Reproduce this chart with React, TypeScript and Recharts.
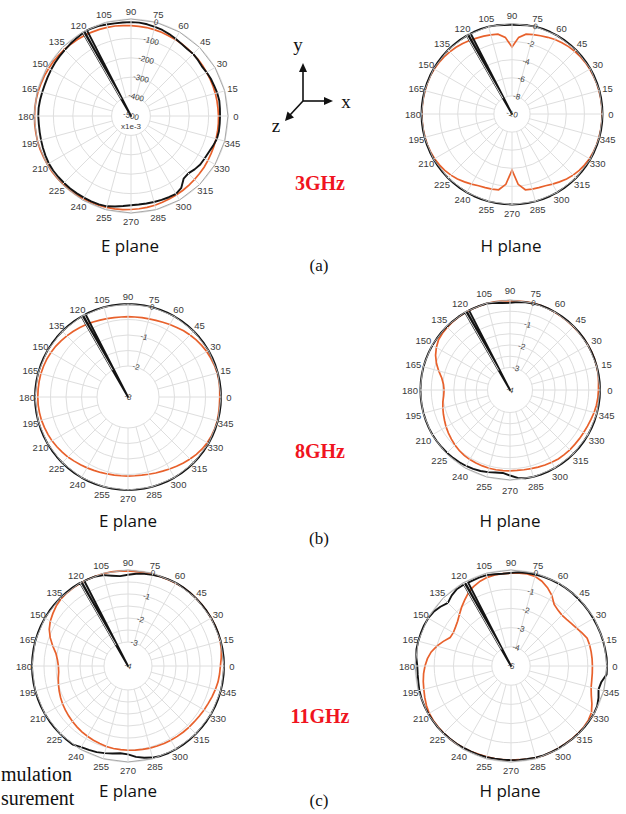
import React from 'react';
import { RadarChart, Radar, PolarGrid, PolarAngleAxis, PolarRadiusAxis } from 'recharts';

// Sample angles (degrees, counter-clockwise from +x). 117.2 .. 119.6 carry the measurement glitch.
const ANGLES = [
  0, 5, 10, 15, 20, 25, 30, 35, 40, 45, 50, 55,
  60, 65, 70, 75, 80, 85, 90, 95, 100, 105, 110, 115,
  117.2, 118, 118.8, 119.6,
  120, 125, 130, 135, 140, 145, 150, 155, 160, 165, 170, 175,
  180, 185, 190, 195, 200, 205, 210, 215, 220, 225, 230, 235,
  240, 245, 250, 255, 260, 265, 270, 275, 280, 285, 290, 295,
  300, 305, 310, 315, 320, 325, 330, 335, 340, 345, 350, 355,
];

const ANGLE_TICKS = [0, 15, 30, 45, 60, 75, 90, 105, 120, 135, 150, 165, 180, 195, 210, 225, 240, 255, 270, 285, 300, 315, 330, 345];

// 3 GHz E plane (units of 1e-3)
const E3_SIM = [
  -49, -50, -50, -50, -50, -50, -50, -49, -48, -48, -47, -45,
  -44, -43, -41, -39, -37, -36, -34, -32, -29, -27, -25, -23,
  -22, -21, -21, -21,
  -21, -19, -17, -15, -13, -11, -10, -8, -7, -5, -4, -3,
  -3, -2, -2, -1, -1, -2, -2, -2, -3, -4, -5, -6,
  -8, -9, -11, -12, -14, -16, -18, -20, -22, -24, -27, -29,
  -31, -33, -35, -37, -39, -40, -42, -44, -45, -46, -47, -48,
];
const E3_MEAS = [
  -41, -40, -38, -40, -44, -46, -50, -54, -50, -47, -49, -46,
  -40, -34, -28, -24, -20, -17, -16, -16, -15, -12, -7, -5,
  -4, -500, -5, -500,
  -6, -10, -14, -18, -20, -22, -24, -26, -27, -26, -24, -22,
  -22, -23, -22, -20, -17, -14, -11, -10, -11, -12, -12, -13,
  -14, -14, -15, -18, -26, -34, -40, -42, -42, -41, -40, -38,
  -36, -48, -78, -82, -72, -64, -62, -58, -50, -42, -40, -41,
];

// 3 GHz H plane (dB)
const H3_SIM = [
  -0.05, -0.05, -0.05, -0.05, -0.05, -0.07, -0.08, -0.1, -0.14, -0.2, -0.28, -0.38,
  -0.5, -0.65, -0.8, -0.92, -1.05, -1.5, -2.6, -1.5, -1.05, -0.95, -0.85, -0.75,
  -0.7, -0.67, -0.65, -0.63,
  -0.62, -0.5, -0.38, -0.28, -0.2, -0.13, -0.08, -0.05, -0.05, -0.05, -0.05, -0.05,
  -0.05, -0.05, -0.05, -0.05, -0.05, -0.08, -0.12, -0.2, -0.3, -0.45, -0.62, -0.85,
  -1.05, -1.25, -1.35, -1.4, -1.5, -2.2, -3.8, -2.2, -1.5, -1.4, -1.35, -1.25,
  -1.05, -0.85, -0.62, -0.45, -0.3, -0.2, -0.12, -0.08, -0.05, -0.05, -0.05, -0.05,
];
const H3_MEAS = [
  0, 0, 0, 0, 0, 0, 0, 0, 0, 0, 0, 0,
  0, 0, 0, 0, -0.05, -0.12, -0.15, -0.12, -0.05, 0, 0, 0,
  0, -10, 0, -10,
  0, 0, 0, 0, 0, 0, 0, 0, 0, 0, 0, 0,
  0, 0, 0, 0, 0, 0, 0, 0, 0, 0, 0, 0,
  0, 0, 0, 0, 0, 0, 0, 0, 0, 0, 0, 0,
  0, 0, 0, 0, 0, 0, 0, 0, 0, 0, 0, 0,
];

// 8 GHz E plane (dB)
const E8_SIM = [
  -0.04, -0.03, -0.02, -0.02, -0.03, -0.05, -0.07, -0.1, -0.13, -0.17, -0.21, -0.26,
  -0.3, -0.34, -0.37, -0.39, -0.4, -0.41, -0.41, -0.41, -0.4, -0.38, -0.36, -0.33,
  -0.32, -0.31, -0.31, -0.3,
  -0.3, -0.27, -0.24, -0.21, -0.18, -0.15, -0.13, -0.11, -0.1, -0.09, -0.09, -0.09,
  -0.09, -0.09, -0.1, -0.11, -0.13, -0.15, -0.17, -0.2, -0.23, -0.26, -0.3, -0.33,
  -0.36, -0.39, -0.41, -0.43, -0.44, -0.45, -0.45, -0.45, -0.44, -0.42, -0.39, -0.36,
  -0.32, -0.27, -0.22, -0.17, -0.12, -0.08, -0.05, -0.03, -0.02, -0.02, -0.03, -0.04,
];
const E8_MEAS = [
  0, 0, 0, 0, 0, 0, 0, 0, 0, 0, 0, 0,
  0, 0, 0, 0, 0, 0, 0, 0, 0, 0, 0, 0,
  0, -3, 0, -3,
  0, 0, 0, 0, 0, 0, 0, 0, 0, 0, 0, 0,
  0, 0, 0, 0, 0, 0, 0, 0, 0, 0, 0, 0,
  0, 0, 0, 0, 0, 0, 0, 0, 0, 0, 0, 0,
  0, 0, 0, 0, 0, 0, 0, 0, 0, 0, 0, 0,
];

// 8 GHz H plane (dB)
const H8_SIM = [
  -0.07, -0.05, -0.02, -0.01, 0, 0, 0, 0, -0.01, -0.02, -0.02, -0.02,
  -0.01, 0, 0, 0, -0.02, -0.03, -0.04, -0.03, -0.02, -0.02, -0.03, -0.03,
  -0.03, -0.03, -0.03, -0.03,
  -0.03, -0.03, -0.04, -0.06, -0.08, -0.12, -0.22, -0.35, -0.52, -0.72, -0.92, -1.03,
  -1.07, -1.04, -0.97, -0.91, -0.85, -0.79, -0.72, -0.66, -0.6, -0.54, -0.49, -0.45,
  -0.43, -0.42, -0.41, -0.4, -0.4, -0.4, -0.41, -0.41, -0.4, -0.38, -0.35, -0.32,
  -0.29, -0.26, -0.25, -0.24, -0.24, -0.23, -0.22, -0.2, -0.17, -0.13, -0.1, -0.08,
];
const H8_MEAS = [
  0, 0, 0, 0, 0, 0, 0, 0, 0, 0, 0, 0,
  0, 0, 0, -0.02, -0.04, -0.08, -0.12, -0.12, -0.06, -0.02, -0.02, -0.02,
  -0.02, -4, -0.02, -4,
  -0.02, -0.02, -0.02, -0.02, -0.02, -0.02, -0.02, -0.02, -0.02, -0.02, -0.02, -0.02,
  -0.02, -0.02, -0.02, -0.02, -0.02, -0.02, -0.02, -0.03, -0.04, -0.05, -0.06, -0.08,
  -0.1, -0.13, -0.17, -0.22, -0.28, -0.3, -0.2, -0.08, -0.02, 0, 0, 0,
  0, 0, 0, 0, 0, 0, 0, 0, 0, 0, 0, 0,
];

// 11 GHz E plane (dB)
const E11_SIM = [
  -0.15, -0.1, -0.05, -0.02, 0, 0, 0, 0, 0, 0, 0, 0,
  -0.02, -0.03, -0.04, -0.05, -0.05, -0.05, -0.04, -0.03, -0.02, -0.02, -0.02, -0.02,
  -0.02, -0.02, -0.02, -0.02,
  -0.02, -0.02, -0.03, -0.05, -0.1, -0.18, -0.26, -0.38, -0.55, -0.75, -0.95, -1.05,
  -1.1, -1.1, -1.05, -1.0, -0.95, -0.9, -0.85, -0.81, -0.77, -0.73, -0.69, -0.65,
  -0.62, -0.59, -0.56, -0.53, -0.51, -0.5, -0.49, -0.48, -0.47, -0.46, -0.45, -0.44,
  -0.43, -0.42, -0.41, -0.4, -0.39, -0.37, -0.34, -0.31, -0.27, -0.23, -0.19, -0.17,
];
const E11_MEAS = [
  0, 0, 0, 0, 0, 0, 0, 0, 0, 0, 0, 0,
  0, -0.02, -0.04, -0.07, -0.1, -0.14, -0.2, -0.24, -0.18, -0.08, -0.03, -0.02,
  -0.02, -4, -0.01, -4,
  0, 0, 0, 0, 0, 0, 0, 0, 0, 0, 0, 0,
  0, 0, 0, 0, 0, 0, 0, 0, 0, 0, 0, 0,
  -0.1, -0.14, -0.18, -0.24, -0.3, -0.35, -0.32, -0.2, -0.12, -0.05, -0.01, 0,
  0, 0, 0, 0, 0, 0, 0, 0, 0, 0, 0, 0,
];

// 11 GHz H plane (dB)
const H11_SIM = [
  -0.76, -0.76, -0.76, -0.76, -0.78, -0.92, -1.06, -1.15, -1.22, -1.25, -1.2, -1.08,
  -0.75, -0.5, -0.3, -0.17, -0.13, -0.14, -0.17, -0.17, -0.18, -0.22, -0.3, -0.42,
  -0.48, -0.51, -0.54, -0.57,
  -0.58, -0.8, -1.0, -1.2, -1.37, -1.47, -1.53, -1.5, -1.25, -1.0, -0.78, -0.63,
  -0.52, -0.43, -0.36, -0.3, -0.22, -0.14, -0.08, -0.06, -0.05, -0.05, -0.05, -0.06,
  -0.07, -0.08, -0.1, -0.1, -0.1, -0.1, -0.1, -0.1, -0.08, -0.05, -0.04, -0.05,
  -0.06, -0.06, -0.05, -0.05, -0.05, -0.08, -0.16, -0.35, -0.55, -0.68, -0.73, -0.75,
];
const H11_MEAS = [
  0, 0, -0.02, -0.03, -0.04, -0.05, -0.05, -0.05, -0.05, -0.05, -0.04, -0.04,
  -0.04, -0.05, -0.06, -0.07, -0.08, -0.1, -0.15, -0.18, -0.15, -0.1, -0.1, -0.12,
  -0.12, -5, -0.11, -5,
  -0.1, -0.1, -0.2, -0.35, -0.2, -0.08, -0.02, 0, 0, 0, 0, -0.05,
  -0.12, -0.12, -0.1, -0.06, -0.04, -0.03, -0.03, -0.03, -0.03, -0.04, -0.05, -0.06,
  -0.07, -0.08, -0.08, -0.09, -0.1, -0.1, -0.1, -0.09, -0.08, -0.06, -0.05, -0.05,
  -0.05, -0.05, -0.04, -0.03, -0.02, -0.02, -0.02, -0.05, -0.15, -0.28, -0.22, 0,
];

// Radial tick labels and grid rings per panel
const E3_TICKS = [-500, -400, -300, -200, -100, 0];
const E3_RINGS = [-400, -300, -200, -100, 0];
const H3_TICKS = [-10, -8, -6, -4, -2, 0];
const H3_RINGS = [-8, -6, -4, -2, 0];
const E8_TICKS = [-3, -2, -1, 0];
const E8_RINGS = [-2, -1.5, -1, -0.5, 0];
const H8_TICKS = [-4, -3, -2, -1, 0];
const H8_RINGS = [-3, -2.5, -2, -1.5, -1, -0.5, 0];
const E11_TICKS = [-4, -3, -2, -1, 0];
const E11_RINGS = [-3, -2.5, -2, -1.5, -1, -0.5, 0];
const H11_TICKS = [-5, -4, -3, -2, -1, 0];
const H11_RINGS = [-4, -3, -2, -1, 0];

const SIM_COLOR = '#e8612c';
const MEAS_COLOR = '#141414';
const GRID_COLOR = '#dedede';
const TICK_FONT = '"Liberation Sans", Arial, sans-serif';

const makeAngleTick = (c: number, labelR: number) => (props: any) => {
  const { payload } = props;
  const deg = typeof payload.coordinate === 'number' ? payload.coordinate : payload.value;
  const a = (deg * Math.PI) / 180;
  const x = c + labelR * Math.cos(a);
  const y = c - labelR * Math.sin(a);
  return (
    <text x={x} y={y} textAnchor="middle" dominantBaseline="central" fontSize={9.5} fontFamily={TICK_FONT} fill="#3a3a3a">
      {payload.value}
    </text>
  );
};

const makeRadTick = (min: number, note?: string) => (props: any) => {
  const { x, y, payload } = props;
  return (
    <g>
      <text
        x={x}
        y={y}
        transform={`rotate(15 ${x} ${y})`}
        textAnchor="middle"
        dominantBaseline="central"
        fontSize={8}
        fontFamily={TICK_FONT}
        fill="#3a3a3a"
      >
        {payload.value}
      </text>
      {note && payload.value === min ? (
        <text x={x} y={y + 10} textAnchor="middle" dominantBaseline="central" fontSize={8} fontFamily={TICK_FONT} fill="#3a3a3a">
          {note}
        </text>
      ) : null}
    </g>
  );
};

type PanelProps = {
  sim: number[];
  meas: number[];
  min: number;
  ticks: number[];
  rings: number[];
  cx: number;
  cy: number;
  R: number;
  gap: number;
  note?: string;
};

const Panel = ({ sim, meas, min, ticks, rings, cx, cy, R, gap, note }: PanelProps) => {
  const data = ANGLES.map((a, i) => ({ angle: a, sim: sim[i], meas: meas[i] }));
  const W = 260;
  const H = 260;
  const ringPx = rings.map((v) => (R * (v - min)) / (0 - min));
  const spokeLen = R - ringPx[0];
  return (
    <div style={{ position: 'absolute', left: cx - W / 2, top: cy - H / 2, width: W, height: H }}>
      <RadarChart
        width={W}
        height={H}
        cx={W / 2}
        cy={H / 2}
        outerRadius={R}
        startAngle={0}
        endAngle={360}
        data={data}
        margin={{ top: 0, right: 0, bottom: 0, left: 0 }}
      >
        <PolarGrid gridType="circle" radialLines={false} polarAngles={ANGLE_TICKS} polarRadius={ringPx} stroke={GRID_COLOR} strokeWidth={1} />
        <PolarAngleAxis
          dataKey="angle"
          type="number"
          scale="linear"
          domain={[0, 360]}
          ticks={ANGLE_TICKS}
          orientation="inner"
          tickSize={spokeLen}
          tickLine={{ stroke: GRID_COLOR, strokeWidth: 1 }}
          axisLine={{ stroke: '#a8a8a8', strokeWidth: 1 }}
          tick={makeAngleTick(W / 2, R + gap)}
        />
        <PolarRadiusAxis
          angle={75}
          type="number"
          domain={[min, 0]}
          ticks={ticks}
          axisLine={false}
          tickLine={false}
          tick={makeRadTick(min, note)}
        />
        <Radar dataKey="sim" stroke={SIM_COLOR} strokeWidth={1.7} fill="none" fillOpacity={0} dot={false} isAnimationActive={false} />
        <Radar dataKey="meas" stroke={MEAS_COLOR} strokeWidth={1.9} strokeLinejoin="round" fill="none" fillOpacity={0} dot={false} isAnimationActive={false} />
      </RadarChart>
    </div>
  );
};

const centered = (x: number, y: number, style: React.CSSProperties, text: string) => (
  <div
    style={{
      position: 'absolute',
      left: x,
      top: y,
      transform: 'translate(-50%, -50%)',
      whiteSpace: 'nowrap',
      lineHeight: 1,
      ...style,
    }}
  >
    {text}
  </div>
);

const serif = '"Liberation Serif", "Times New Roman", serif';
const planeStyle: React.CSSProperties = { fontFamily: '"Open Sans", sans-serif', fontSize: 17, color: '#111' };
const capStyle: React.CSSProperties = { fontFamily: serif, fontSize: 17, color: '#111' };
const freqStyle: React.CSSProperties = { fontFamily: serif, fontSize: 20, fontWeight: 700, color: '#f0141e' };

export default function App() {
  return (
    <div style={{ position: 'absolute', left: 0, top: 0, width: 626, height: 814, background: '#fff', overflow: 'hidden' }}>
      <Panel sim={E3_SIM} meas={E3_MEAS} min={-500} ticks={E3_TICKS} rings={E3_RINGS} cx={131} cy={116} R={97} gap={8} note="x1e-3" />
      <Panel sim={H3_SIM} meas={H3_MEAS} min={-10} ticks={H3_TICKS} rings={H3_RINGS} cx={512} cy={114} R={90.5} gap={8.5} />
      <Panel sim={E8_SIM} meas={E8_MEAS} min={-3} ticks={E8_TICKS} rings={E8_RINGS} cx={128} cy={397} R={93} gap={8} />
      <Panel sim={H8_SIM} meas={H8_MEAS} min={-4} ticks={H8_TICKS} rings={H8_RINGS} cx={510} cy={390} R={90} gap={10} />
      <Panel sim={E11_SIM} meas={E11_MEAS} min={-4} ticks={E11_TICKS} rings={E11_RINGS} cx={128} cy={666} R={96} gap={8} />
      <Panel sim={H11_SIM} meas={H11_MEAS} min={-5} ticks={H11_TICKS} rings={H11_RINGS} cx={511} cy={666} R={96} gap={8} />

      {centered(130, 245, planeStyle, 'E plane')}
      {centered(511, 245, planeStyle, 'H plane')}
      {centered(128, 520, planeStyle, 'E plane')}
      {centered(510, 520, planeStyle, 'H plane')}
      {centered(128, 790, planeStyle, 'E plane')}
      {centered(510, 790, planeStyle, 'H plane')}

      {centered(319, 265, capStyle, '(a)')}
      {centered(319, 538, capStyle, '(b)')}
      {centered(319, 800, capStyle, '(c)')}

      {centered(320, 183, freqStyle, '3GHz')}
      {centered(320, 451, freqStyle, '8GHz')}
      {centered(320, 716, freqStyle, '11GHz')}

      <div style={{ position: 'absolute', left: 1, top: 762, fontFamily: serif, fontSize: 20, lineHeight: '24px', color: '#111', whiteSpace: 'nowrap' }}>
        mulation
      </div>
      <div style={{ position: 'absolute', left: 1, top: 786, fontFamily: serif, fontSize: 20, lineHeight: '24px', color: '#111', whiteSpace: 'nowrap' }}>
        surement
      </div>

      <svg width={626} height={814} style={{ position: 'absolute', left: 0, top: 0, pointerEvents: 'none' }}>
        <g stroke="#111" strokeWidth={1.6} fill="#111">
          <line x1={303} y1={101} x2={303} y2={71} />
          <polygon points="303,63 299,72 307,72" stroke="none" />
          <line x1={303} y1={101} x2={325} y2={101} />
          <polygon points="333,101 324,97 324,105" stroke="none" />
          <line x1={303} y1={101} x2={290} y2={115} />
          <polygon points="285,121 287.5,111.5 294,117.5" stroke="none" />
        </g>
        <text x={298} y={51} fontFamily={serif} fontSize={19} fill="#111" textAnchor="middle">y</text>
        <text x={346} y={108} fontFamily={serif} fontSize={19} fill="#111" textAnchor="middle">x</text>
        <text x={276} y={132} fontFamily={serif} fontSize={19} fill="#111" textAnchor="middle">z</text>
      </svg>
    </div>
  );
}
